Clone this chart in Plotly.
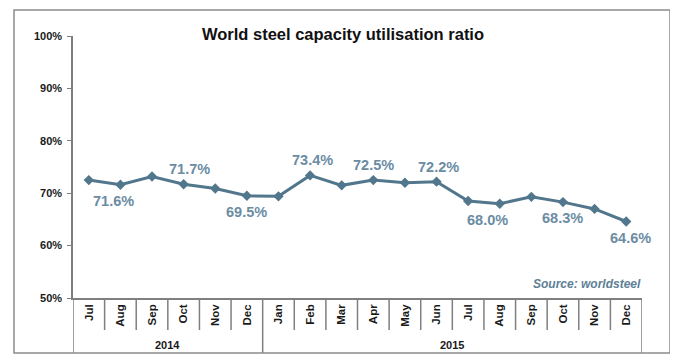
import plotly.graph_objects as go

years = ["2014"] * 6 + ["2015"] * 12
months = ["Jul", "Aug", "Sep", "Oct", "Nov", "Dec",
          "Jan", "Feb", "Mar", "Apr", "May", "Jun",
          "Jul", "Aug", "Sep", "Oct", "Nov", "Dec"]
ratio = [72.5, 71.6, 73.2, 71.7, 70.9, 69.5,
         69.4, 73.4, 71.5, 72.5, 72.0, 72.2,
         68.5, 68.0, 69.3, 68.3, 67.0, 64.6]
y_ticks = [50, 60, 70, 80, 90, 100]

# which points carry a data label, and where (above/below, horizontal nudge)
label_idx = [1, 3, 5, 7, 9, 11, 13, 15, 17]
label_pos = ["below", "above", "below", "above", "above", "above", "below", "below", "below"]
label_dx = [-7, 6, 0, 2, 0, 2, -12, 0, 4]

line_col = "#52778d"
label_col = "#6b8ca3"
text_col = "#1a1a1a"
grid_col = "#7f7f7f"

n = len(months)
xi = list(range(n))

fig = go.Figure()
fig.add_trace(go.Scatter(
    x=xi, y=ratio, mode="lines+markers",
    line=dict(color=line_col, width=3),
    marker=dict(symbol="diamond", size=8, color=line_col),
    hoverinfo="skip", showlegend=False,
))

for i, pos, dx in zip(label_idx, label_pos, label_dx):
    fig.add_annotation(
        x=i, y=ratio[i], xref="x", yref="y",
        text=f"{ratio[i]:.1f}%", showarrow=False,
        xshift=dx, yshift=15 if pos == "above" else -16,
        font=dict(family="Arial, Liberation Sans", size=14.5, color=label_col, weight="bold"),
    )

fig.add_annotation(
    x=1, y=50, xref="paper", yref="y", xanchor="right", yanchor="bottom",
    yshift=5, xshift=1,
    text="<i>Source: worldsteel</i>", showarrow=False,
    font=dict(family="Arial, Liberation Sans", size=12, color="#5e7f96", weight="bold"),
)

# category table below the axis: month separators and year groups
PLOT_W, PLOT_H = 569, 262
month_sep_y = -32 / PLOT_H
table_bot_y = -55 / PLOT_H
for i in range(1, n):
    if years[i] == years[i - 1]:
        fig.add_shape(type="line", xref="x", yref="paper", x0=i - 0.5, x1=i - 0.5,
                      y0=0, y1=month_sep_y, line=dict(color=grid_col, width=1.5))
bounds = [0] + [i for i in range(1, n) if years[i] != years[i - 1]] + [n]
for b in bounds:
    fig.add_shape(type="line", xref="x", yref="paper", x0=b - 0.5, x1=b - 0.5,
                  y0=0, y1=table_bot_y, line=dict(color=grid_col, width=1.5))
for a, b in zip(bounds[:-1], bounds[1:]):
    fig.add_annotation(x=(a + b - 1) / 2, y=-47 / PLOT_H, xref="x", yref="paper",
                       text=f"<b>{years[a]}</b>", showarrow=False, yanchor="middle",
                       font=dict(family="Arial, Liberation Sans", size=11, color=text_col))

# outer frame
fig.add_shape(type="rect", xref="paper", yref="paper",
              x0=-59 / PLOT_W, x1=1 + 28 / PLOT_W, y0=table_bot_y, y1=1 + 26 / PLOT_H,
              line=dict(color="#8c8c8c", width=1.5), fillcolor="rgba(0,0,0,0)")

# page body has an 8px default margin, so the figure is drawn 8px smaller/offset
W, H = 670, 355
fig.update_layout(
    width=W, height=H,
    margin=dict(l=65, r=36, t=28, b=65),
    paper_bgcolor="white", plot_bgcolor="white",
    title=dict(text="<b>World steel capacity utilisation ratio</b>",
               x=335 / W, xanchor="center", y=1 - 26 / H, yanchor="middle",
               font=dict(family="Arial, Liberation Sans", size=16.5, color="#111111")),
    font=dict(family="Arial, Liberation Sans", color=text_col),
)
fig.update_yaxes(
    range=[50, 100], tickvals=y_ticks, ticktext=[f"{v}%" for v in y_ticks],
    showgrid=False, zeroline=False, showline=True, linecolor=grid_col, linewidth=1.5,
    ticks="outside", ticklen=4, tickcolor=grid_col, ticklabelstandoff=3,
    tickfont=dict(size=11, color=text_col, weight="bold"),
)
fig.update_xaxes(
    range=[-0.5, n - 0.5], tickvals=xi, ticktext=months,
    showgrid=False, zeroline=False, showline=True, linecolor=grid_col, linewidth=1.5,
    ticks="", ticklabelstandoff=0,
    tickangle=-90, tickfont=dict(size=11.5, color=text_col, weight="bold"),
)

fig.write_html("out.html")
